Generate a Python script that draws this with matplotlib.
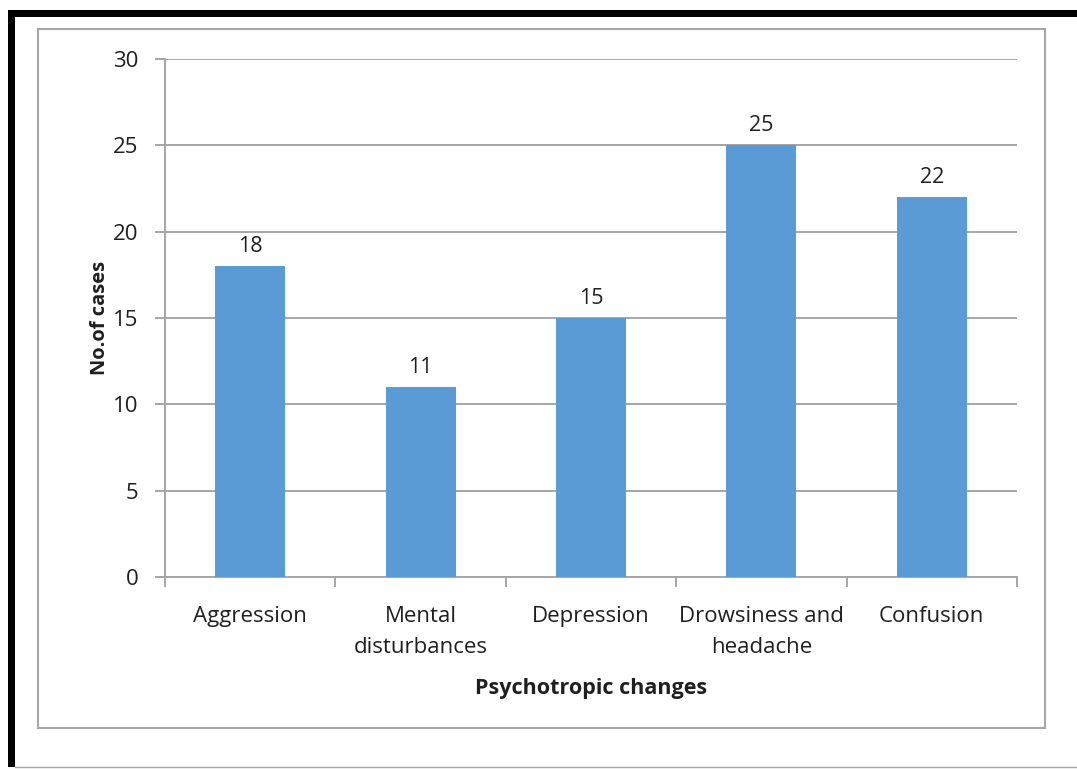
import matplotlib
matplotlib.use("Agg")
import matplotlib.pyplot as plt
from matplotlib.patches import Rectangle
from matplotlib.lines import Line2D

categories = ["Aggression", "Mental\ndisturbances", "Depression",
              "Drowsiness and\nheadache", "Confusion"]
cases = [18, 11, 15, 25, 22]
yticks = [0, 5, 10, 15, 20, 25, 30]

plt.rcParams["font.family"] = ["Open Sans", "DejaVu Sans"]
TXT = "#1f1f1f"
GREY = "#a6a6a6"

W, H = 1077, 769
fig = plt.figure(figsize=(W / 100, H / 100), dpi=100)

# outer page border: heavy black on top and left, thin grey at the bottom
fig.add_artist(Rectangle((8 / W, 1 - 17 / H), (W - 8) / W, 7 / H,
                         transform=fig.transFigure, color="black", lw=0))
fig.add_artist(Rectangle((8 / W, 1 - 767 / H), 7 / W, (767 - 10) / H,
                         transform=fig.transFigure, color="black", lw=0))
fig.add_artist(Line2D([15 / W, 1], [1 - 767 / H] * 2,
                      transform=fig.transFigure, color=GREY, lw=1))
# chart area frame
fig.add_artist(Rectangle((38 / W, 1 - 728 / H), (1045 - 38) / W, (728 - 29) / H,
                         transform=fig.transFigure, fill=False,
                         edgecolor=GREY, lw=1.5))

left, right, top, bottom = 165, 1017, 59, 577
ax = fig.add_axes([left / W, 1 - bottom / H, (right - left) / W, (bottom - top) / H])

x = range(len(categories))
ax.bar(x, cases, width=0.41, color="#5b9bd5", zorder=3)
for xi, v in zip(x, cases):
    ax.text(xi, v + 0.55, str(v), ha="center", va="bottom", fontsize=15.5,
            color=TXT)

ax.set_xlim(-0.5, len(categories) - 0.5)
ax.set_ylim(0, 30)
ax.set_yticks(yticks)
ax.yaxis.grid(True, color=GREY, lw=1.4, zorder=0)

ax.set_xticks(list(x))
ax.set_xticklabels(categories, fontsize=16, color=TXT, linespacing=1.62)
ax.set_xticks([i + 0.5 for i in range(-1, len(categories))], minor=True)
ax.tick_params(axis="x", which="major", length=0, pad=21)
ax.tick_params(axis="x", which="minor", length=7, color=GREY, width=1.4)
ax.tick_params(axis="y", length=7, color=GREY, width=1.4,
               labelsize=16, labelcolor=TXT, pad=12)

for s in ["top", "right"]:
    ax.spines[s].set_visible(False)
for s in ["left", "bottom"]:
    ax.spines[s].set_color(GREY)
    ax.spines[s].set_linewidth(1.4)

ax.set_ylabel("No.of cases", fontsize=14.5, fontweight="bold", color=TXT,
              labelpad=2)
ax.set_xlabel("Psychotropic changes", fontsize=15.5, fontweight="bold",
              color=TXT, labelpad=14)

fig.savefig("out.png", dpi=100)
